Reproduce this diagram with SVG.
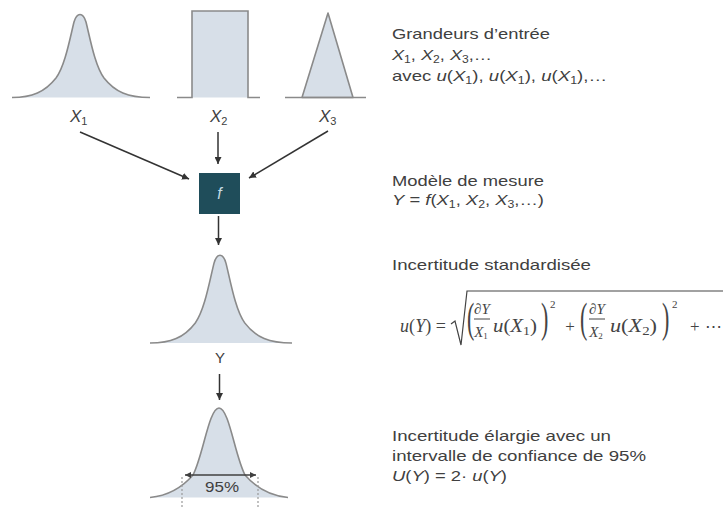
<svg xmlns="http://www.w3.org/2000/svg" width="727" height="508" viewBox="0 0 727 508">
<defs>
<style>
.t{font-family:"Liberation Sans",Arial,sans-serif;font-size:15px;fill:#404040}
.lbl{font-family:"Liberation Sans",Arial,sans-serif;font-size:17px;fill:#404040}
.m{font-family:"Liberation Serif","Times New Roman",serif;fill:#444}
.i{font-style:italic}
.dist{fill:#d7dfe8;stroke:#8a8a8a;stroke-width:1.6;stroke-linejoin:round}
.base{fill:none;stroke:#8a8a8a;stroke-width:1.6}
.conn{stroke:#333;stroke-width:1.5;fill:none}
</style>
<marker id="ah" viewBox="0 0 10 10" refX="10" refY="5" markerWidth="7" markerHeight="7" markerUnits="userSpaceOnUse" orient="auto-start-reverse"><path d="M0,0 L10,5 L0,10 z" fill="#333"/></marker>
<marker id="ah2" viewBox="0 0 10 10" refX="10" refY="5" markerWidth="6" markerHeight="6" markerUnits="userSpaceOnUse" orient="auto-start-reverse"><path d="M0,0 L10,5 L0,10 z" fill="#404040"/></marker>
</defs>
<rect width="727" height="508" fill="#fff"/>

<g id="input-x1">
<path class="dist" d="M12,97.5 C32,97.5 45,92 56,78 C65,66 70,38 74,22 C77,12 83,12 86,22 C90,38 95,66 104,78 C115,92 128,97.5 150,97.5"/>
<text class="lbl" x="70" y="122"><tspan class="i">X</tspan><tspan font-size="11" dy="3">1</tspan></text>
</g>

<g id="input-x2">
<rect x="192" y="11" width="56" height="86.5" fill="#d7dfe8"/>
<path class="base" d="M177,97.5 L192,97.5 L192,11 L248,11 L248,97.5 L260,97.5"/>
<text class="lbl" x="210" y="122"><tspan class="i">X</tspan><tspan font-size="11" dy="3">2</tspan></text>
</g>

<g id="input-x3">
<path class="dist" d="M302,97.5 L328,13 L353,97.5 Z"/>
<path class="base" d="M285,97.5 L366,97.5"/>
<text class="lbl" x="319" y="122"><tspan class="i">X</tspan><tspan font-size="11" dy="3">3</tspan></text>
</g>

<g id="model-f">
<rect x="199" y="173" width="41" height="41" fill="#1f4d5a"/>
<text x="219.5" y="199" text-anchor="middle" font-family="Liberation Sans, Arial, sans-serif" font-size="16" font-style="italic" fill="#c4dbe4">f</text>
</g>

<g id="output-y">
<path class="dist" d="M150,343 C170.6,343 184,337.7 195.3,322.9 C204.6,310.2 209.7,280.5 213.9,263.6 C216.9,252.5 223.1,252.5 226.1,263.6 C230.3,280.5 235.4,310.2 244.7,322.9 C256,337.7 269.4,343 292,343"/>
<text class="t" x="220" y="363" text-anchor="middle">Y</text>
</g>

<g id="output-expanded">
<path class="dist" d="M150,497.5 C165,496 180,490 193,475 C203,456 209,408 219,408 C229,408 235,456 245,475 C258,490 272,496 288,497.5"/>
<line x1="182" y1="477" x2="182" y2="508" stroke="#999" stroke-width="1.2" stroke-dasharray="2,2"/>
<line x1="258" y1="477" x2="258" y2="508" stroke="#999" stroke-width="1.2" stroke-dasharray="2,2"/>
<line x1="185" y1="475" x2="256" y2="475" stroke="#404040" stroke-width="1.4" marker-start="url(#ah2)" marker-end="url(#ah2)"/>
<text class="t" x="205" y="492" font-size="14" textLength="34" lengthAdjust="spacingAndGlyphs">95%</text>
</g>

<g id="connectors">
<line class="conn" x1="80" y1="132" x2="189" y2="179" marker-end="url(#ah)"/>
<line class="conn" x1="218" y1="132" x2="218" y2="164" marker-end="url(#ah)"/>
<line class="conn" x1="328" y1="131" x2="249" y2="178" marker-end="url(#ah)"/>
<line class="conn" x1="218.5" y1="216" x2="218.5" y2="245" marker-end="url(#ah)"/>
<line class="conn" x1="219.5" y1="374" x2="219.5" y2="400" marker-end="url(#ah)"/>
</g>

<g id="text-inputs">
<text class="t" x="392" y="39" textLength="158" lengthAdjust="spacingAndGlyphs">Grandeurs d’entrée</text>
<text class="t" x="392" y="60" textLength="100" lengthAdjust="spacingAndGlyphs"><tspan class="i">X</tspan><tspan font-size="10" dy="3">1</tspan><tspan dy="-3">, </tspan><tspan class="i">X</tspan><tspan font-size="10" dy="3">2</tspan><tspan dy="-3">, </tspan><tspan class="i">X</tspan><tspan font-size="10" dy="3">3</tspan><tspan dy="-3">,…</tspan></text>
<text class="t" x="392" y="81" textLength="215" lengthAdjust="spacingAndGlyphs">avec <tspan class="i">u</tspan>(<tspan class="i">X</tspan><tspan font-size="10" dy="3">1</tspan><tspan dy="-3">), </tspan><tspan class="i">u</tspan>(<tspan class="i">X</tspan><tspan font-size="10" dy="3">1</tspan><tspan dy="-3">), </tspan><tspan class="i">u</tspan>(<tspan class="i">X</tspan><tspan font-size="10" dy="3">1</tspan><tspan dy="-3">),…</tspan></text>
</g>

<g id="text-model">
<text class="t" x="392" y="186" textLength="152" lengthAdjust="spacingAndGlyphs">Modèle de mesure</text>
<text class="t" x="392" y="205" textLength="152" lengthAdjust="spacingAndGlyphs"><tspan class="i">Y</tspan> = <tspan class="i">f</tspan>(<tspan class="i">X</tspan><tspan font-size="10" dy="3">1</tspan><tspan dy="-3">, </tspan><tspan class="i">X</tspan><tspan font-size="10" dy="3">2</tspan><tspan dy="-3">, </tspan><tspan class="i">X</tspan><tspan font-size="10" dy="3">3</tspan><tspan dy="-3">,…)</tspan></text>
</g>

<g id="text-standard">
<text class="t" x="392" y="270" textLength="199" lengthAdjust="spacingAndGlyphs">Incertitude standardisée</text>
<g id="formula" class="m">
<text x="400" y="332" font-size="18" textLength="46" lengthAdjust="spacing"><tspan class="i">u</tspan>(<tspan class="i">Y</tspan>) =</text>
<path d="M451,324 L455,321 L461,345 L467,291 L723,291" fill="none" stroke="#444" stroke-width="1.2"/>
<text transform="translate(467,332) scale(1,1.9)" font-size="22">(</text>
<text x="482" y="314" font-size="15" text-anchor="middle" class="i">∂Y</text>
<line x1="474" y1="319" x2="490" y2="319" stroke="#444" stroke-width="1"/>
<text x="481" y="337" font-size="15" text-anchor="middle"><tspan class="i">X</tspan><tspan font-size="9" dy="2">1</tspan></text>
<text x="493" y="332" font-size="18" textLength="44" lengthAdjust="spacingAndGlyphs"><tspan class="i">u</tspan>(<tspan class="i">X</tspan><tspan font-size="12" dy="3">1</tspan><tspan dy="-3">)</tspan></text>
<text transform="translate(541,332) scale(1,1.9)" font-size="22">)</text>
<text x="550" y="308" font-size="11">2</text>
<text x="570" y="332" font-size="17" text-anchor="middle">+</text>
<text transform="translate(580,332) scale(1,1.9)" font-size="22">(</text>
<text x="597" y="314" font-size="15" text-anchor="middle" class="i">∂Y</text>
<line x1="589" y1="319" x2="605" y2="319" stroke="#444" stroke-width="1"/>
<text x="596" y="337" font-size="15" text-anchor="middle"><tspan class="i">X</tspan><tspan font-size="9" dy="2">2</tspan></text>
<text x="610" y="332" font-size="18" textLength="47" lengthAdjust="spacingAndGlyphs"><tspan class="i">u</tspan>(<tspan class="i">X</tspan><tspan font-size="12" dy="3">2</tspan><tspan dy="-3">)</tspan></text>
<text transform="translate(662,332) scale(1,1.9)" font-size="22">)</text>
<text x="672" y="308" font-size="11">2</text>
<text x="690" y="332" font-size="17" textLength="32" lengthAdjust="spacing">+ ⋯</text>
</g>
</g>

<g id="text-expanded">
<text class="t" x="392" y="441" textLength="219" lengthAdjust="spacingAndGlyphs">Incertitude élargie avec un</text>
<text class="t" x="392" y="461" textLength="254" lengthAdjust="spacingAndGlyphs">intervalle de confiance de 95%</text>
<text class="t" x="392" y="481" textLength="115" lengthAdjust="spacingAndGlyphs"><tspan class="i">U</tspan>(<tspan class="i">Y</tspan>) = 2· <tspan class="i">u</tspan>(<tspan class="i">Y</tspan>)</text>
</g>
</svg>
